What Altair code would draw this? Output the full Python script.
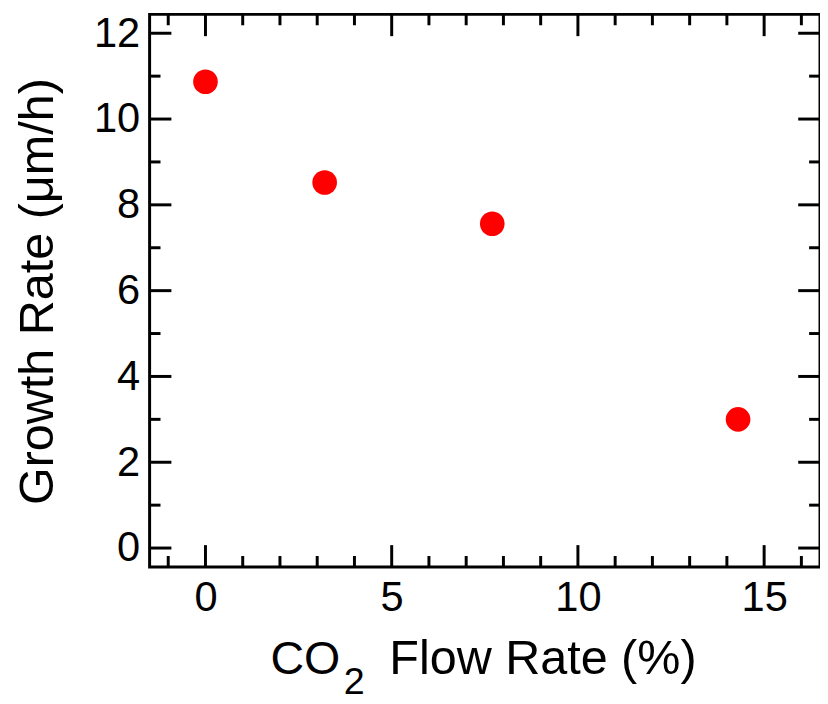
import altair as alt
import pandas as pd

# data
co2_flow = [0.0, 3.2, 7.7, 14.3]
growth_rate = [10.87, 8.52, 7.56, 3.0]

x_major = [0, 5, 10, 15]
x_minor = [-1, 1, 2, 3, 4, 6, 7, 8, 9, 11, 12, 13, 14, 16]
y_major = [0, 2, 4, 6, 8, 10, 12]
y_minor = [1, 3, 5, 7, 9, 11]

W, H = 677, 558
XDOM = [-1.5, 16.5]
YDOM = [-0.44, 12.44]
FONT = "Liberation Sans"

xs = alt.Scale(domain=XDOM, nice=False, zero=False)
ys = alt.Scale(domain=YDOM, nice=False, zero=False)

df = pd.DataFrame({"x": co2_flow, "y": growth_rate})

points = alt.Chart(df).mark_circle(size=620, color="#ff0000", opacity=1).encode(
    x=alt.X("x:Q", scale=xs,
            axis=alt.Axis(values=x_major, ticks=False, domain=False, grid=False,
                          labelFontSize=42, labelFont=FONT, labelColor="black",
                          labelPadding=11, title=None)),
    y=alt.Y("y:Q", scale=ys,
            axis=alt.Axis(values=y_major, ticks=False, domain=False, grid=False,
                          labelFontSize=42, labelFont=FONT, labelColor="black",
                          labelPadding=10, title=None)),
)

def xticks(vals, length, top):
    d = pd.DataFrame({"v": vals})
    if top:
        y1, y2 = 0, length
    else:
        y1, y2 = H, H - length
    return alt.Chart(d).mark_rule(color="black", strokeWidth=3).encode(
        x=alt.X("v:Q", scale=xs), y=alt.value(y1), y2=alt.value(y2))

def yticks(vals, length, right):
    d = pd.DataFrame({"v": vals})
    if right:
        x1, x2 = W, W - length
    else:
        x1, x2 = 0, length
    return alt.Chart(d).mark_rule(color="black", strokeWidth=3).encode(
        y=alt.Y("v:Q", scale=ys), x=alt.value(x1), x2=alt.value(x2))

ticks = [
    xticks(x_major, 22, False), xticks(x_major, 22, True),
    xticks(x_minor, 11, False), xticks(x_minor, 11, True),
    yticks(y_major, 22, False), yticks(y_major, 22, True),
    yticks(y_minor, 11, False), yticks(y_minor, 11, True),
]

def label(txt, x, y, size, align="left", angle=0, baseline="alphabetic"):
    d = pd.DataFrame({"t": [txt]})
    return alt.Chart(d).mark_text(fontSize=size, font=FONT, color="black",
                                  align=align, baseline=baseline, angle=angle).encode(
        text="t:N", x=alt.value(x), y=alt.value(y))

titles = [
    label("CO", 122, 666, 47),
    label("2", 196, 686, 38),
    label("Flow Rate (%)", 242, 666, 49),
    label("Growth Rate (μm/h)", -98, 280, 49, align="center", angle=270),
]

chart = alt.layer(points, *ticks, *titles).properties(
    width=W, height=H,
    autosize=alt.AutoSizeParams(type="none"),
    padding={"left": 143, "top": 3, "right": 0, "bottom": 135},
).configure_view(stroke="black", strokeWidth=3)

chart.save("out.html", embed_options={"renderer": "svg", "actions": False})
